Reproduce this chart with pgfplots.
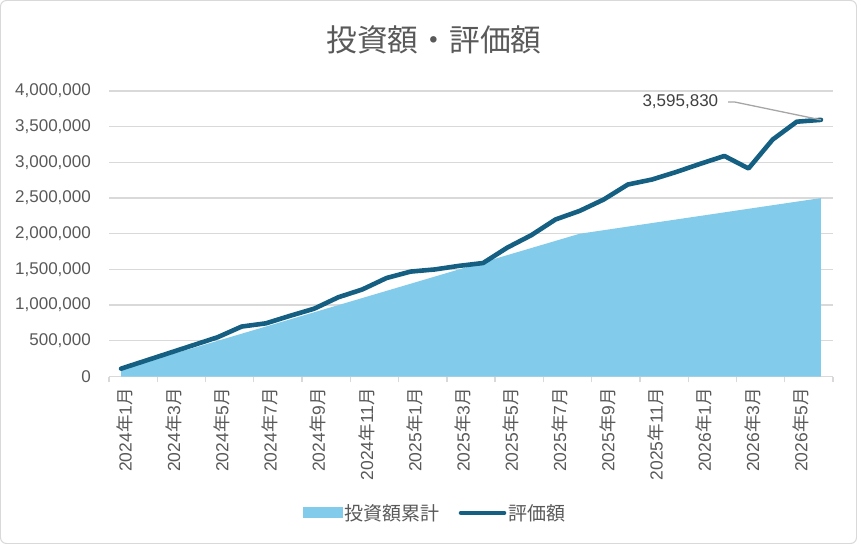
\documentclass[border=0pt]{standalone}
\usepackage{pgfplots}
\pgfplotsset{compat=1.18}
\usepackage{fontspec}
\setmainfont{Liberation Sans}
\newfontfamily\cjk{Noto Sans CJK JP}
\definecolor{areablue}{HTML}{83CBEB}
\definecolor{lineblue}{HTML}{156082}
\definecolor{gridgray}{HTML}{D9D9D9}
\definecolor{tickgray}{HTML}{595959}
\definecolor{labelgray}{HTML}{404040}
\definecolor{leadergray}{HTML}{A6A6A6}
\newcommand\ym[2]{#1{\cjk 年}#2{\cjk 月}}
\pgfplotsset{
  areaimg/.style={legend image code/.code={\fill[##1] (0bp,-5.5bp) rectangle (40bp,5.5bp);}},
  lineimg/.style={legend image code/.code={\draw[##1] (0bp,0bp) -- (43bp,0bp);}},
}
\begin{document}
\begin{tikzpicture}
\path[use as bounding box] (0bp,0bp) rectangle (857bp,-544bp);
\draw[gridgray, line width=1bp, rounded corners=6bp] (0.5bp,-0.5bp) rectangle (856.5bp,-543.5bp);
\node[font=\cjk\fontsize{30.7bp}{34bp}\selectfont, text=tickgray, inner sep=0pt] at (434bp,-40bp) {投資額・評価額};
\begin{axis}[
  at={(109bp,-376.5bp)}, anchor=south west,
  scale only axis, width=724bp, height=285.5bp,
  xmin=-0.5, xmax=29.5, ymin=0, ymax=4000000,
  axis line style={draw=none},
  ytick={0,500000,...,4000000},
  ymajorgrids, grid style={gridgray, line width=1.3bp},
  ytick style={draw=none},
  scaled y ticks=false,
  yticklabel style={/pgf/number format/fixed, /pgf/number format/1000 sep={,}, /pgf/number format/precision=0, /pgf/number format/assume math mode=true},
  yticklabel style={font=\fontsize{17bp}{20bp}\selectfont, text=tickgray, inner sep=0pt, xshift=-18bp},
  xtick={0,2,...,28},
  xticklabels={\ym{2024}{1},\ym{2024}{3},\ym{2024}{5},\ym{2024}{7},\ym{2024}{9},\ym{2024}{11},\ym{2025}{1},\ym{2025}{3},\ym{2025}{5},\ym{2025}{7},\ym{2025}{9},\ym{2025}{11},\ym{2026}{1},\ym{2026}{3},\ym{2026}{5}},
  xticklabel style={yshift=-11.5bp, xshift=4bp, font=\fontsize{17.5bp}{20bp}\selectfont, text=tickgray, rotate=90, anchor=east, inner sep=0pt},
  minor xtick={-0.5,1.5,...,29.5},
  xtick pos=bottom, tick align=outside,
  major tick length=0pt, minor tick length=5.5bp,
  minor tick style={gridgray, line width=1.3bp},
  clip=false,
  legend style={at={(0.4503,-0.478)}, anchor=center, draw=none, fill=none,
    font=\cjk\fontsize{19bp}{21bp}\selectfont, text=tickgray,
    /tikz/every even column/.append style={column sep=17bp}},
  legend columns=2,
]
\addplot[fill=areablue, draw=none, areaimg]
coordinates {
(0,100000) (1,200000) (2,300000) (3,400000) (4,500000) (5,600000) (6,700000) (7,800000) (8,900000) (9,1000000)
(10,1100000) (11,1200000) (12,1300000) (13,1400000) (14,1500000) (15,1600000) (16,1700000) (17,1800000) (18,1900000) (19,2000000)
(20,2050000) (21,2100000) (22,2150000) (23,2200000) (24,2250000) (25,2300000) (26,2350000) (27,2400000) (28,2450000) (29,2500000)
} \closedcycle;
\addlegendentry{投資額累計}
\addplot[lineblue, line width=4.6bp, line join=round, line cap=round, lineimg]
coordinates {
(0,110000) (1,220000) (2,330000) (3,440000) (4,550000) (5,700000) (6,745000) (7,850000) (8,950000) (9,1110000)
(10,1220000) (11,1380000) (12,1470000) (13,1500000) (14,1550000) (15,1590000) (16,1805000) (17,1980000) (18,2200000) (19,2320000)
(20,2480000) (21,2690000) (22,2760000) (23,2865000) (24,2980000) (25,3090000) (26,2915000) (27,3320000) (28,3570000) (29,3595830)
};
\addlegendentry{評価額}
\draw[leadergray, line width=1.3bp] (axis cs:25.15,3845000) -- (axis cs:25.44,3845000) -- (axis cs:29,3595830);
\node[anchor=east, inner sep=0pt, text=labelgray, font=\fontsize{17bp}{20bp}\selectfont] at (axis cs:24.75,3845000) {3,595,830};
\end{axis}
\end{tikzpicture}
\end{document}
